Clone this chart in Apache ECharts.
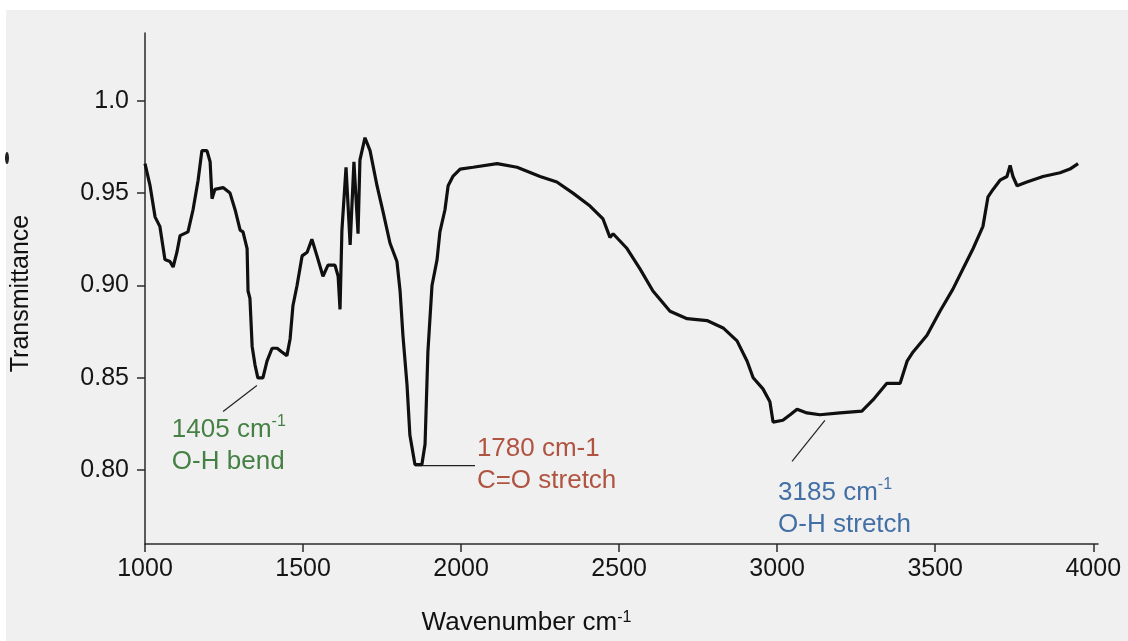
<!DOCTYPE html>
<html>
<head>
<meta charset="utf-8">
<script src="https://cdn.jsdelivr.net/npm/echarts@6/dist/echarts.min.js"></script>
<style>html,body{margin:0;padding:0;background:#fff}#c{width:1128px;height:641px}</style>
</head>
<body>
<div id="c"></div>
<script>
// ---- data ----
const wavenumbers = [1000,1016,1032,1047,1063,1079,1089,1101,1111,1136,
1152,1168,1180,1196,1206,1212,1221,1247,1269,1285,
1301,1310,1323,1326,1332,1339,1348,1357,1373,1386,
1402,1418,1433,1449,1459,1468,1481,1497,1513,1528,
1544,1563,1579,1601,1611,1617,1623,1636,1649,1661,
1674,1680,1696,1712,1734,1753,1775,1797,1807,1816,
1829,1838,1854,1876,1886,1895,1908,1924,1933,1949,
1959,1974,1997,2038,2114,2177,2250,2303,2354,2408,
2449,2471,2481,2525,2566,2607,2661,2715,2778,2829,
2873,2905,2924,2955,2977,2987,3018,3041,3063,3094,
3135,3199,3268,3303,3347,3389,3411,3430,3474,3515,
3556,3588,3620,3651,3667,3683,3705,3727,3737,3746,
3759,3790,3841,3895,3926,3952];
const transmittance = [0.966,0.954,0.937,0.932,0.914,0.913,0.910,0.918,0.927,0.929,
0.941,0.957,0.973,0.973,0.967,0.947,0.952,0.953,0.950,0.941,
0.930,0.929,0.920,0.897,0.893,0.867,0.857,0.850,0.850,0.859,
0.866,0.866,0.864,0.862,0.871,0.889,0.900,0.916,0.918,0.925,
0.916,0.905,0.911,0.911,0.905,0.887,0.930,0.964,0.922,0.967,
0.928,0.968,0.980,0.973,0.954,0.940,0.923,0.913,0.897,0.873,
0.846,0.819,0.803,0.803,0.814,0.864,0.900,0.914,0.929,0.941,
0.954,0.959,0.963,0.964,0.966,0.964,0.959,0.956,0.950,0.943,
0.936,0.926,0.928,0.920,0.909,0.897,0.886,0.882,0.881,0.877,
0.870,0.859,0.850,0.844,0.837,0.826,0.827,0.830,0.833,0.831,
0.830,0.831,0.832,0.838,0.847,0.847,0.859,0.864,0.873,0.886,
0.898,0.909,0.920,0.932,0.948,0.952,0.957,0.959,0.965,0.959,
0.954,0.956,0.959,0.961,0.963,0.966];

const xTicks = [1000,1500,2000,2500,3000,3500,4000];
const yTicks = [0.80,0.85,0.90,0.95,1.0];

// annotations (in data coordinates)
const annLine1 = ["1405 cm", "1780 cm-1", "3185 cm"];
const annSup   = ["-1", "", "-1"];
const annLine2 = ["O-H bend", "C=O stretch", "O-H stretch"];
const annColors = ["#1a651a", "#a02d17", "#174f92"];
const pointerFrom = [[1354,0.8458],[1854,0.8024],[3151,0.8269]];
const pointerTo   = [[1247,0.8318],[2044,0.8024],[3047,0.8048]];
const labelAnchor = [[1085,0.8131],[2050,0.8031],[3003,0.7791]];

const FONT = "'Liberation Sans', Arial, sans-serif";
const chart = echarts.init(document.getElementById('c'), null, {renderer:'canvas'});

const series = [{
  type:'line',
  data: wavenumbers.map((w,i)=>[w, transmittance[i]]),
  showSymbol:false,
  symbol:'none',
  lineStyle:{color:'#101010', width:3.2},
  z:5,
  silent:true
}];

for (let i=0;i<annLine1.length;i++){
  series.push({
    type:'line',
    data:[pointerFrom[i], pointerTo[i]],
    showSymbol:false, symbol:'none',
    lineStyle:{color:'#222', width:1.2},
    silent:true, z:4
  });
  const top = annSup[i] ? '{a|'+annLine1[i]+'}{s|'+annSup[i]+'}' : '{a|'+annLine1[i]+'}';
  series.push({
    type:'scatter',
    data:[labelAnchor[i]],
    symbolSize:0,
    silent:true,
    label:{
      show:true, position:'right', distance:0,
      align:'left', verticalAlign:'middle',
      formatter: top + '\n{a|' + annLine2[i] + '}',
      rich:{
        a:{fontSize:26, lineHeight:32, color:annColors[i], fontFamily:FONT},
        s:{fontSize:16, lineHeight:16, verticalAlign:'top', color:annColors[i], fontFamily:FONT}
      }
    },
    z:6
  });
}

chart.setOption({
  backgroundColor:'#ffffff',
  animation:false,
  textStyle:{fontFamily:FONT},
  graphic:{elements:[
    {type:'rect', shape:{x:6,y:10,width:1122,height:631}, style:{fill:'#f0f0f0'}, z:-100, silent:true},
    {type:'ellipse', shape:{cx:7,cy:158,rx:2,ry:6}, style:{fill:'#222'}, z:-50, silent:true}
  ]},
  grid:{left:145, right:30, top:33, bottom:95, containLabel:false},
  xAxis:{
    type:'value', min:1000, max:4015,
    name:'Wavenumber cm{s|-1}',
    nameLocation:'middle', nameGap:66,
    nameTextStyle:{fontSize:26, color:'#111', fontFamily:FONT, padding:[0,190,0,0],
      rich:{s:{fontSize:16, lineHeight:14, verticalAlign:'top', color:'#111', fontFamily:FONT}}},
    axisLine:{show:true, onZero:false, lineStyle:{color:'#2a2a2a', width:1.5}},
    axisTick:{show:true, inside:false, length:8, customValues:xTicks, lineStyle:{color:'#2a2a2a', width:1.5}},
    axisLabel:{show:true, customValues:xTicks, fontSize:25, color:'#151515', margin:13, fontFamily:FONT,
      formatter:function(v){ return String(Math.round(v)); }},
    splitLine:{show:false}
  },
  yAxis:{
    type:'value', min:0.76, max:1.0367,
    name:'Transmittance',
    nameLocation:'middle', nameRotate:90, nameGap:111,
    nameTextStyle:{fontSize:25, color:'#111', fontFamily:FONT, padding:[0,10,0,0]},
    axisLine:{show:true, onZero:false, lineStyle:{color:'#2a2a2a', width:1.5}},
    axisTick:{show:true, inside:false, length:8, customValues:yTicks, lineStyle:{color:'#2a2a2a', width:1.5}},
    axisLabel:{show:true, customValues:yTicks, fontSize:25, color:'#151515', margin:16, fontFamily:FONT,
      formatter:function(v){ return Math.abs(v-1)<1e-9 ? '1.0' : v.toFixed(2); }},
    splitLine:{show:false}
  },
  series:series
});
</script>
</body>
</html>
